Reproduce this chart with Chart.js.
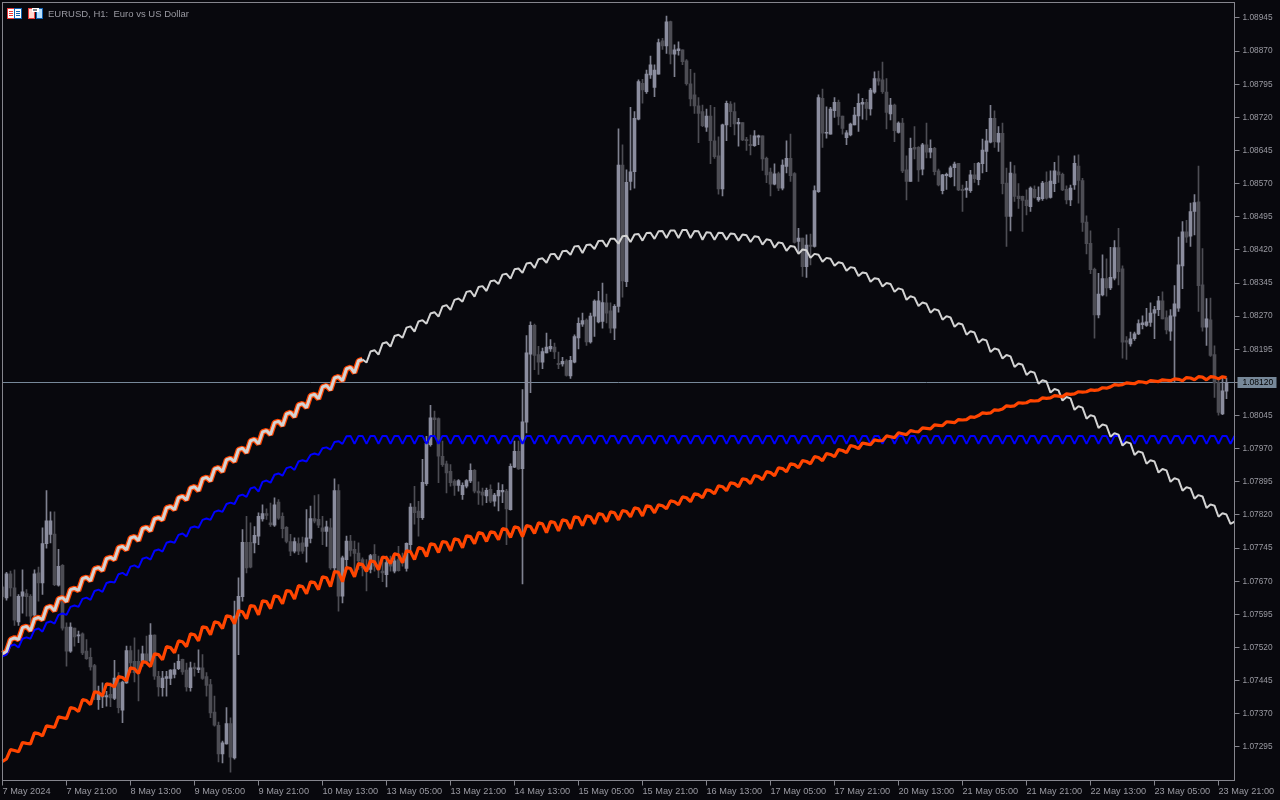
<!DOCTYPE html>
<html>
<head>
<meta charset="utf-8">
<title>EURUSD, H1</title>
<script src="https://cdn.jsdelivr.net/npm/chart.js@4"></script>
<style>
  html, body { margin: 0; padding: 0; background: #08080d; }
  canvas { display: block; }
</style>
</head>
<body>
<canvas id="chart" width="1280" height="800"></canvas>
<script>
// all series are in points above 1.00000 (8120 = 1.08120), hourly bars
const opens = [
  7657,7632,7687,7655,7578,7636,7642,7636,7593,7689,
  7666,7755,7776,7777,7661,7706,7566,7512,7564,7546,
  7551,7512,7498,7479,7402,7408,7408,7414,7405,7440,
  7378,7440,7513,7489,7489,7489,7506,7489,7548,7455,
  7429,7450,7450,7459,7472,7493,7469,7429,7476,7470,
  7474,7454,7436,7374,7344,7279,7302,7348,7270,7591,
  7635,7758,7758,7757,7772,7811,7823,7802,7797,7849,
  7817,7792,7760,7738,7755,7757,7749,7767,7812,7810,
  7791,7783,7791,7700,7875,7636,7719,7761,7742,7734,
  7719,7704,7697,7731,7708,7693,7685,7716,7693,7719,
  7723,7699,7753,7838,7829,7814,7891,7979,8040,8038,
  7953,7936,7919,7897,7887,7866,7885,7897,7921,7874,
  7872,7863,7878,7851,7863,7872,7874,7832,7928,7964,
  7925,8030,8184,8249,8183,8166,8187,8196,8200,8163,
  8162,8169,8135,8166,8221,8252,8261,8212,8270,8257,
  8258,8300,8282,8243,8292,8612,8348,8575,8597,8716,
  8797,8778,8816,8788,8818,8893,8882,8937,8863,8871,
  8873,8848,8796,8771,8746,8733,8698,8723,8667,8633,
  8558,8703,8750,8733,8705,8708,8670,8659,8656,8675,
  8678,8627,8596,8569,8593,8560,8609,8627,8593,8439,
  8447,8382,8431,8428,8552,8763,8684,8682,8735,8754,
  8723,8674,8680,8703,8723,8750,8754,8739,8777,8808,
  8805,8777,8728,8748,8686,8707,8601,8575,8652,8652,
  8603,8658,8641,8650,8599,8554,8588,8586,8606,8616,
  8557,8556,8554,8590,8579,8615,8643,8664,8718,8664,
  8684,8571,8496,8592,8542,8541,8533,8518,8557,8533,
  8536,8573,8539,8570,8597,8591,8557,8533,8567,8610,
  8577,8483,8435,8376,8273,8318,8355,8334,8356,8425,
  8377,8215,8207,8219,8230,8251,8249,8256,8277,8285,
  8305,8267,8236,8270,8288,8384,8461,8451,8507,8529,
  8341,8245,8262,8183,8120,8049,8100
];
const closes = [
  7635,7687,7655,7582,7636,7646,7635,7591,7687,7666,
  7755,7807,7807,7662,7704,7564,7512,7566,7544,7549,
  7508,7495,7476,7421,7414,7411,7411,7406,7451,7384,
  7442,7513,7485,7463,7466,7506,7489,7548,7455,7431,
  7451,7454,7469,7470,7489,7465,7431,7474,7472,7474,
  7450,7434,7372,7344,7279,7304,7348,7272,7591,7636,
  7758,7700,7702,7774,7817,7823,7819,7798,7843,7813,
  7789,7760,7738,7760,7738,7738,7768,7812,7806,7797,
  7783,7793,7700,7875,7636,7723,7761,7740,7733,7716,
  7700,7693,7728,7704,7697,7689,7712,7704,7716,7694,
  7712,7756,7838,7825,7814,7894,7982,8040,8036,7953,
  7934,7915,7893,7887,7898,7887,7898,7921,7874,7870,
  7865,7876,7851,7865,7876,7876,7834,7930,7964,7924,
  8031,8187,8249,8181,8166,8190,8200,8202,8189,8160,
  8168,8136,8170,8224,8254,8260,8212,8270,8304,8305,
  8301,8277,8243,8292,8612,8350,8573,8597,8718,8801,
  8782,8818,8839,8827,8889,8882,8936,8863,8873,8875,
  8846,8796,8762,8746,8729,8701,8723,8667,8631,8558,
  8703,8752,8733,8705,8709,8669,8667,8656,8678,8678,
  8626,8590,8569,8592,8560,8612,8627,8588,8437,8447,
  8382,8431,8428,8554,8765,8684,8686,8739,8754,8722,
  8695,8685,8705,8725,8752,8754,8740,8782,8808,8802,
  8778,8731,8748,8690,8707,8599,8575,8650,8648,8601,
  8658,8641,8650,8597,8567,8590,8591,8606,8614,8556,
  8554,8560,8590,8581,8616,8646,8667,8718,8665,8684,
  8570,8496,8594,8541,8536,8532,8520,8560,8539,8539,
  8571,8537,8576,8599,8590,8556,8533,8560,8616,8577,
  8482,8434,8375,8273,8320,8355,8334,8358,8425,8371,
  8211,8211,8219,8230,8253,8255,8257,8277,8285,8305,
  8264,8239,8271,8298,8386,8461,8449,8507,8527,8339,
  8245,8264,8181,8119,8052,8101,8120
];
const highs = [
  7659,7690,7693,7696,7640,7696,7651,7640,7696,7702,
  7791,7875,7827,7827,7742,7708,7576,7576,7564,7557,
  7553,7538,7519,7482,7433,7440,7421,7440,7491,7463,
  7444,7523,7523,7542,7515,7523,7546,7574,7549,7466,
  7466,7466,7470,7485,7504,7494,7485,7487,7485,7515,
  7504,7463,7448,7410,7351,7308,7384,7361,7625,7678,
  7787,7817,7802,7794,7825,7843,7834,7847,7859,7855,
  7825,7794,7776,7768,7768,7770,7832,7840,7864,7866,
  7817,7806,7812,7902,7889,7727,7772,7774,7761,7757,
  7723,7719,7731,7753,7727,7723,7727,7727,7734,7749,
  7734,7757,7846,7885,7851,7946,7998,8068,8055,8040,
  7987,7942,7934,7900,7900,7893,7900,7936,7923,7895,
  7881,7881,7888,7869,7893,7889,7878,7936,7987,7987,
  8104,8226,8257,8252,8202,8198,8232,8217,8209,8189,
  8177,8172,8179,8228,8266,8277,8264,8277,8307,8326,
  8345,8320,8300,8296,8694,8658,8601,8743,8733,8805,
  8806,8827,8859,8839,8897,8899,8949,8938,8884,8891,
  8873,8851,8829,8820,8765,8748,8739,8747,8743,8676,
  8705,8757,8756,8753,8718,8708,8675,8680,8690,8680,
  8678,8630,8605,8615,8596,8624,8667,8682,8595,8469,
  8447,8454,8456,8565,8771,8784,8744,8743,8765,8759,
  8723,8690,8707,8743,8773,8763,8761,8786,8823,8825,
  8845,8808,8763,8750,8710,8718,8633,8673,8699,8654,
  8661,8707,8669,8652,8603,8591,8594,8610,8619,8616,
  8567,8575,8600,8616,8618,8671,8693,8747,8735,8699,
  8707,8605,8619,8611,8570,8542,8556,8563,8565,8563,
  8575,8597,8599,8618,8633,8594,8565,8567,8633,8635,
  8582,8497,8463,8379,8367,8409,8400,8426,8441,8469,
  8384,8224,8234,8234,8262,8271,8288,8300,8292,8315,
  8325,8282,8285,8339,8449,8484,8487,8526,8545,8610,
  8423,8310,8311,8203,8126,8130,8130
];
const lows = [
  7629,7627,7636,7570,7570,7598,7591,7576,7580,7625,
  7640,7745,7757,7660,7659,7559,7478,7509,7523,7531,
  7504,7493,7469,7402,7380,7384,7387,7386,7402,7372,
  7350,7439,7463,7442,7399,7478,7485,7485,7448,7410,
  7410,7410,7436,7451,7470,7459,7421,7421,7455,7463,
  7448,7410,7361,7342,7261,7259,7301,7238,7267,7504,
  7625,7689,7700,7734,7753,7806,7810,7794,7794,7810,
  7768,7757,7728,7734,7730,7733,7713,7757,7802,7791,
  7753,7749,7697,7689,7602,7621,7697,7727,7689,7697,
  7682,7648,7689,7693,7678,7669,7657,7693,7689,7693,
  7704,7693,7734,7799,7772,7810,7887,7976,7998,7893,
  7930,7870,7885,7864,7874,7855,7881,7893,7870,7844,
  7842,7848,7848,7840,7829,7848,7753,7831,7927,7923,
  7664,8006,8097,8149,8138,8151,8187,8190,8174,8151,
  8157,8134,8129,8164,8196,8247,8204,8209,8224,8255,
  8243,8255,8232,8217,8279,8313,8337,8556,8560,8714,
  8752,8774,8808,8767,8818,8874,8865,8841,8812,8861,
  8839,8793,8746,8729,8663,8699,8688,8615,8627,8546,
  8542,8667,8699,8680,8655,8667,8645,8635,8654,8658,
  8600,8572,8542,8567,8554,8556,8594,8575,8435,8416,
  8360,8358,8386,8426,8550,8652,8673,8682,8720,8703,
  8682,8658,8678,8703,8688,8716,8714,8725,8774,8793,
  8774,8694,8714,8665,8684,8595,8533,8575,8626,8575,
  8590,8628,8628,8590,8565,8547,8557,8584,8565,8554,
  8507,8539,8550,8573,8567,8594,8597,8662,8652,8643,
  8547,8428,8463,8530,8514,8462,8499,8507,8537,8530,
  8532,8535,8537,8552,8573,8554,8524,8520,8557,8526,
  8462,8411,8366,8220,8266,8316,8315,8330,8352,8341,
  8175,8172,8202,8215,8228,8241,8247,8247,8219,8271,
  8264,8230,8215,8120,8281,8332,8437,8428,8454,8281,
  8236,8204,8179,8086,8046,8047,8083
];

const grayCurve = [
  7506,
  7511,7538,7542, 7538,7565,7568, 7558,7585,7588, 7583,7610,7613, 7603,7630,7633,
  7624,7651,7654, 7649,7676,7679, 7671,7698,7701, 7694,7721,7724, 7719,7746,7749,
  7741,7768,7771, 7762,7789,7792, 7784,7811,7814, 7809,7836,7839, 7832,7859,7862,
  7854,7881,7884, 7875,7902,7905, 7897,7924,7927, 7918,7945,7948, 7941,7968,7971,
  7961,7988,7991, 7981,8008,8011, 8002,8029,8032, 8022,8049,8052, 8042,8069,8072,
  8063,8090,8093, 8083,8110,8113, 8103,8130,8133, 8124,8151,8154, 8142,8169,8172,
  8165,8190,8193, 8183,8208,8211, 8201,8225,8228, 8221,8244,8247, 8235,8258,8261,
  8253,8276,8279, 8269,8292,8295, 8284,8307,8310, 8303,8325,8327, 8314,8336,8338,
  8327,8349,8351, 8343,8364,8366, 8355,8376,8378, 8368,8389,8391, 8379,8399,8401,
  8391,8410,8411, 8398,8417,8418, 8409,8428,8429, 8413,8431,8432, 8422,8440,8441,
  8427,8445,8445, 8434,8451,8452, 8438,8455,8456, 8441,8458,8459, 8445,8462,8463,
  8447,8464,8464, 8447,8465,8465, 8447,8463,8462, 8443,8460,8459, 8443,8459,8458,
  8443,8457,8456, 8441,8455,8453, 8438,8451,8449, 8432,8444,8442, 8425,8437,8435,
  8418,8429,8427, 8411,8421,8419, 8402,8411,8409, 8393,8402,8400, 8384,8392,8390,
  8373,8381,8379, 8361,8369,8367, 8348,8356,8354, 8337,8345,8343, 8325,8333,8330,
  8307,8315,8312, 8293,8301,8298, 8278,8286,8283, 8262,8270,8267, 8246,8254,8251,
  8228,8236,8233, 8210,8218,8215, 8189,8197,8194, 8174,8182,8179, 8155,8163,8160,
  8137,8145,8142, 8117,8125,8122, 8097,8105,8102, 8079,8087,8084, 8058,8066,8063,
  8038,8046,8043, 8017,8025,8022, 7997,8005,8002, 7977,7985,7982, 7956,7964,7961,
  7936,7944,7941, 7916,7924,7921, 7895,7903,7900, 7875,7883,7880, 7857,7865,7862,
  7836,7844,7841, 7816,7824,7821, 7800,7805
];
// the upper orange band runs exactly under the start of the gray curve
const upperOrange = grayCurve.slice(0, 91);

const blueCurve = [
  7500,
  7504,7524,7527, 7520,7540,7543, 7540,7560,7563, 7556,7576,7579, 7574,7594,7597,
  7594,7612,7615, 7612,7630,7633, 7628,7648,7651, 7646,7666,7669, 7667,7686,7689,
  7683,7703,7706, 7701,7721,7724, 7719,7739,7742, 7737,7757,7760, 7757,7775,7778,
  7771,7791,7794, 7791,7809,7812, 7809,7827,7830, 7827,7845,7848, 7845,7863,7866,
  7861,7880,7883, 7873,7895,7898, 7893,7911,7914, 7909,7926,7929, 7922,7941,7944,
  7941,7956,7959, 7956,7971,7973, 7968,7985,7987, 7981,7998,7999,
  7981,7999,7999, 7981,7999,7999, 7981,7999,7999, 7981,7999,7999, 7981,7999,7999,
  7981,7999,7999, 7981,7999,7999, 7981,7999,7999, 7981,7999,7999, 7981,7999,7999,
  7981,7999,7999, 7981,7999,7999, 7981,7999,7999, 7981,7999,7999, 7981,7999,7999,
  7981,7999,7999, 7981,7999,7999, 7981,7999,7999, 7981,7999,7999, 7981,7999,7999,
  7981,7999,7999, 7981,7999,7999, 7981,7999,7999, 7981,7999,7999, 7981,7999,7999,
  7981,7999,7999, 7981,7999,7999, 7981,7999,7999, 7981,7999,7999, 7981,7999,7999,
  7981,7999,7999, 7981,7999,7999, 7981,7999,7999, 7981,7999,7999, 7981,7999,7999,
  7981,7999,7999, 7981,7999,7999, 7981,7999,7999, 7981,7999,7999, 7981,7999,7999,
  7981,7999,7999, 7981,7999,7999, 7981,7999,7999, 7981,7999,7999, 7981,7999,7999,
  7981,7999,7999, 7981,7999,7999, 7981,7999,7999, 7981,7999,7999, 7981,7999,7999,
  7981,7999,7999, 7981,7999,7999, 7981,7999,7999, 7981,7999,7999, 7981,7999,7999,
  7981,7999,7999, 7981,7999,7999, 7981,7999,7999, 7981,7999,7999, 7981,7999,7999,
  7981,7999,7999, 7981,7999,7999, 7981,7999,7999, 7981,7999,7999, 7981,7999,7999,
  7981,7999,7999, 7981,7999,7999, 7981,7999,7999, 7981,7999,7999, 7981,7999,7999,
  7981,7999,7999, 7981,7999,7999, 7981,7999,7999,
  7981,7999
];

const lowerOrange = [
  7262,
  7268,7289,7287, 7284,7305,7303, 7302,7327,7325, 7320,7343,7341, 7339,7363,7361,
  7359,7384,7382, 7375,7402,7400, 7391,7420,7418, 7411,7438,7436, 7431,7454,7452,
  7445,7474,7472, 7461,7488,7486, 7477,7506,7504, 7492,7522,7520, 7508,7535,7533,
  7522,7551,7549, 7535,7567,7565, 7549,7578,7576, 7563,7592,7590, 7574,7603,7601,
  7585,7615,7613, 7594,7626,7624, 7608,7637,7635, 7619,7649,7647, 7630,7660,7658,
  7642,7669,7667, 7651,7680,7678, 7658,7692,7690, 7669,7701,7699, 7680,7710,7708,
  7692,7716,7714, 7696,7725,7723, 7710,7732,7730, 7712,7739,7737, 7719,7746,7744,
  7726,7755,7753, 7735,7760,7758, 7739,7766,7764, 7746,7773,7771, 7755,7780,7778,
  7760,7782,7780, 7764,7789,7787, 7769,7793,7791, 7771,7796,7794, 7778,7802,7800,
  7780,7805,7803, 7784,7809,7807, 7789,7816,7814, 7796,7818,7816, 7800,7823,7821,
  7805,7827,7825, 7809,7830,7828, 7816,7836,7834, 7818,7841,7839, 7825,7843,7841,
  7834,7852,7850, 7843,7861,7859, 7850,7868,7866, 7859,7877,7875, 7868,7886,7884,
  7875,7893,7891, 7884,7902,7900, 7891,7909,7907, 7900,7918,7916, 7909,7927,7925,
  7918,7936,7934, 7927,7943,7941, 7936,7952,7950, 7943,7959,7957, 7952,7968,7966,
  7961,7977,7975, 7970,7983,7981, 7979,7990,7988, 7988,7999,7997, 7995,8006,8004,
  8002,8011,8009, 8008,8017,8016, 8015,8024,8023, 8022,8031,8030, 8029,8036,8035,
  8036,8042,8041, 8045,8051,8050, 8051,8058,8057, 8060,8067,8066, 8067,8074,8073,
  8074,8079,8078, 8079,8085,8084, 8085,8090,8089, 8088,8094,8093, 8094,8099,8098,
  8099,8103,8102, 8103,8108,8107, 8110,8115,8114, 8115,8119,8118, 8117,8122,8121,
  8119,8124,8123, 8122,8126,8125, 8124,8128,8127, 8124,8131,8130, 8126,8133,8132,
  8126,8133,8132, 8128,8133,8131
];

const timeLabels = [
  '7 May 2024', '7 May 21:00', '8 May 13:00', '9 May 05:00', '9 May 21:00',
  '10 May 13:00', '13 May 05:00', '13 May 21:00', '14 May 13:00', '15 May 05:00',
  '15 May 21:00', '16 May 13:00', '17 May 05:00', '17 May 21:00', '20 May 13:00',
  '21 May 05:00', '21 May 21:00', '22 May 13:00', '23 May 05:00', '23 May 21:00'
];
const priceTicks = [
  1.08945, 1.0887, 1.08795, 1.0872, 1.08645, 1.0857, 1.08495, 1.0842,
  1.08345, 1.0827, 1.08195, 1.0812, 1.08045, 1.0797, 1.07895, 1.0782,
  1.07745, 1.0767, 1.07595, 1.0752, 1.07445, 1.0737, 1.07295
];
const lastPrice = 1.0812;
const titleText = 'EURUSD, H1:  Euro vs US Dollar';

const BARS_PER_LABEL = 16;
const SLOTS = 309;
const AXIS = '#85858d';
const TEXT = '#9a9aa2';
const FONT = '"Liberation Sans", Arial, sans-serif';

const toPrice = v => 1 + v / 100000;
const isUp = opens.map((open, i) => closes[i] >= open);
const categories = Array.from({ length: SLOTS }, (_, i) =>
  i % BARS_PER_LABEL === 0 ? timeLabels[i / BARS_PER_LABEL] : '',
);

const line = (data, borderColor, borderWidth, order, extra) => ({
  type: 'line',
  data: data.map(toPrice),
  borderColor,
  borderWidth,
  order,
  pointRadius: 0,
  tension: 0,
  borderJoinStyle: 'bevel',
  ...extra,
});

// price line, price tag, window title and the two toolbar icons
const decorations = {
  id: 'decorations',
  beforeDatasetsDraw(chart) {
    const { ctx, chartArea, scales } = chart;
    const y = scales.y.getPixelForValue(lastPrice);
    ctx.save();
    ctx.strokeStyle = '#778899';
    ctx.lineWidth = 1;
    ctx.beginPath();
    ctx.moveTo(chartArea.left, Math.floor(y) + 0.5);
    ctx.lineTo(chartArea.right, Math.floor(y) + 0.5);
    ctx.stroke();
    ctx.restore();
  },
  afterDraw(chart) {
    const { ctx, chartArea, scales } = chart;
    const y = Math.floor(scales.y.getPixelForValue(lastPrice)) + 0.5;
    ctx.save();
    ctx.strokeStyle = AXIS;
    ctx.lineWidth = 1;
    ctx.strokeRect(chartArea.left, chartArea.top, chartArea.width, chartArea.height);

    ctx.fillStyle = '#778899';
    ctx.fillRect(chartArea.right + 3, y - 5.5, 39, 11);
    ctx.fillStyle = '#000000';
    ctx.font = '8.5px ' + FONT;
    ctx.textBaseline = 'middle';
    ctx.textAlign = 'left';
    ctx.fillText(lastPrice.toFixed(5), chartArea.right + 8, y + 0.5);

    ctx.fillStyle = TEXT;
    ctx.font = '9.5px ' + FONT;
    ctx.fillText(titleText, 48, 14);

    // left icon
    ctx.fillStyle = '#e83a3a';
    ctx.fillRect(7, 8, 8, 11);
    ctx.fillStyle = '#1060b0';
    ctx.fillRect(14, 8, 8, 11);
    ctx.fillStyle = '#ffffff';
    ctx.fillRect(8, 9, 6, 9);
    ctx.fillRect(15, 9, 6, 9);
    ctx.fillStyle = '#e83a3a';
    ctx.fillRect(9, 11, 4, 1);
    ctx.fillRect(9, 13, 4, 1);
    ctx.fillRect(9, 15, 4, 1);
    ctx.fillStyle = '#1060b0';
    ctx.fillRect(16, 11, 4, 1);
    ctx.fillRect(16, 13, 4, 1);
    ctx.fillRect(16, 15, 4, 1);

    // right icon
    ctx.fillStyle = '#e83a3a';
    ctx.fillRect(28, 8, 7, 11);
    ctx.fillStyle = '#1060b0';
    ctx.fillRect(36, 8, 7, 11);
    ctx.fillStyle = '#ffd8d0';
    ctx.fillRect(29, 9, 5, 9);
    ctx.fillStyle = '#b8e0ff';
    ctx.fillRect(37, 9, 5, 9);
    ctx.fillStyle = '#ffffff';
    ctx.fillRect(32, 8, 7, 4);
    ctx.fillStyle = '#808088';
    ctx.fillRect(33, 9, 4, 2);
    ctx.restore();
  },
};

// eslint-disable-next-line no-new
new Chart('chart', {
  data: {
    labels: categories,
    datasets: [
      line(lowerOrange, '#ff4500', 3.2, 1),
      line(grayCurve, '#d3d3d3', 2, 2, {
        segment: { borderWidth: ctx => (ctx.p0DataIndex < upperOrange.length - 1 ? 3 : 2) },
      }),
      line(blueCurve, '#0000ff', 2, 3),
      line(upperOrange, '#ff4500', 5.5, 4),
      {
        type: 'bar',
        data: opens.map((open, i) => [toPrice(open), toPrice(closes[i])]),
        backgroundColor: isUp.map(up => (up ? '#8b8d9e' : '#4d4d54')),
        barThickness: 3,
        minBarLength: 1,
        grouped: false,
        order: 5,
      },
      {
        type: 'bar',
        data: lows.map((low, i) => [toPrice(low), toPrice(highs[i])]),
        backgroundColor: isUp.map(up => (up ? '#7f8190' : '#4d4d54')),
        barThickness: 1,
        grouped: false,
        order: 6,
      },
    ],
  },
  options: {
    responsive: false,
    animation: false,
    events: [],
    layout: { padding: { left: 2.5, top: 2.5, right: 0, bottom: 0 } },
    plugins: { legend: { display: false }, tooltip: { enabled: false } },
    scales: {
      x: {
        type: 'category',
        offset: false,
        border: { display: false },
        grid: { offset: false, drawOnChartArea: false, color: AXIS, tickLength: 5 },
        ticks: {
          autoSkip: false,
          maxRotation: 0,
          align: 'start',
          padding: 0,
          color: TEXT,
          font: { family: FONT, size: 9.2 },
          callback(value) {
            return categories[value];
          },
        },
        afterBuildTicks(scale) {
          scale.ticks = scale.ticks.filter(t => t.value % BARS_PER_LABEL === 0);
        },
        afterFit(scale) {
          scale.height = 19.5;
          scale.paddingLeft = 0;
          scale.paddingRight = 0;
        },
      },
      y: {
        position: 'right',
        min: 1.07219,
        max: 1.0898,
        border: { display: false },
        grid: { drawOnChartArea: false, color: AXIS, tickLength: 5 },
        ticks: {
          padding: 3,
          color: TEXT,
          font: { family: FONT, size: 8.3 },
          callback(value) {
            return value.toFixed(5);
          },
        },
        afterBuildTicks(scale) {
          scale.ticks = priceTicks.map(value => ({ value }));
        },
        afterFit(scale) {
          scale.width = 45.5;
          scale.paddingTop = 0;
          scale.paddingBottom = 0;
        },
      },
    },
  },
  plugins: [decorations],
});
</script>
</body>
</html>
